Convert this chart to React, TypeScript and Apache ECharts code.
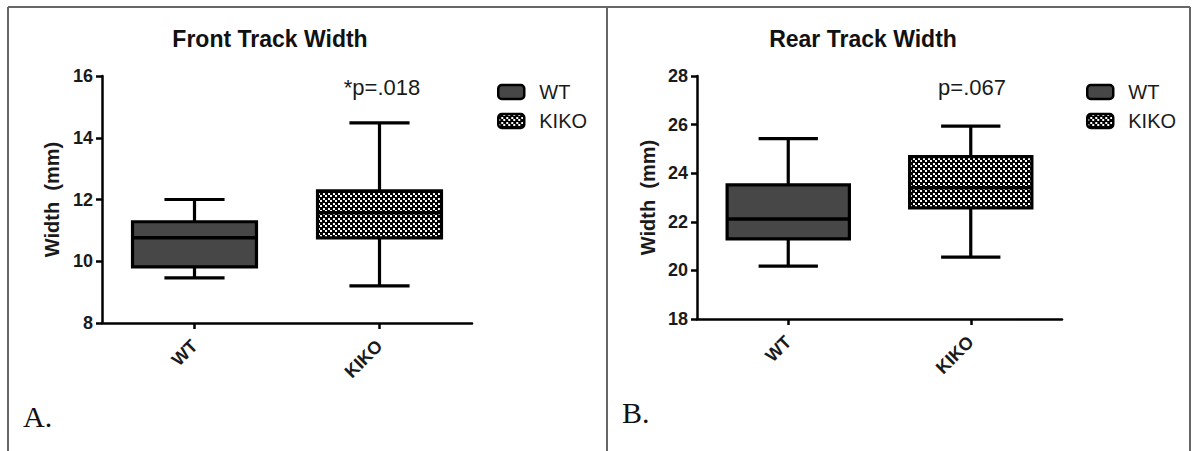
import React, { useEffect, useRef } from 'react';
import * as echarts from 'echarts';

// ---- data ----
const categories = ['WT', 'KIKO'];
// box values: [min, Q1, median, Q3, max]
const frontWT = [9.46, 9.82, 10.76, 11.28, 12.0];
const frontKIKO = [9.2, 10.76, 11.57, 12.28, 14.48];
const rearWT = [20.18, 21.3, 22.12, 23.52, 25.42];
const rearKIKO = [20.55, 22.57, 23.4, 24.68, 25.94];
const frontTicks = [8, 10, 12, 14, 16];
const rearTicks = [18, 20, 22, 24, 26, 28];
const titles = ['Front Track Width', 'Rear Track Width'];
const pLabels = ['*p=.018', 'p=.067'];
const panelLabels = ['A.', 'B.'];
const yName = 'Width  (mm)';

const SANS = '"Liberation Sans", Arial, Helvetica, sans-serif';
const SERIF = '"Liberation Serif", "Times New Roman", serif';

function makeChecker(): HTMLCanvasElement {
  const c = document.createElement('canvas');
  c.width = 5;
  c.height = 5;
  const ctx = c.getContext('2d')!;
  ctx.fillStyle = '#000';
  ctx.fillRect(0, 0, 5, 5);
  ctx.fillStyle = '#fff';
  ctx.fillRect(0, 0, 2, 2);
  ctx.fillRect(3, 3, 2, 2);
  return c;
}

const makeRender = (fill: any) => (params: any, api: any) => {
  const ci = api.value(0);
  const pts = [1, 2, 3, 4, 5].map((i) => api.coord([ci, api.value(i)]));
  const band = api.size([1, 0])[0];
  const cx = pts[0][0];
  const bw = band * 0.67;
  const cw = band * 0.325;
  const line = (x1: number, y1: number, x2: number, y2: number, w = 3.2) => ({
    type: 'line',
    shape: { x1, y1, x2, y2 },
    style: { stroke: '#000', lineWidth: w },
  });
  return {
    type: 'group',
    children: [
      line(cx, pts[4][1], cx, pts[3][1]),
      line(cx, pts[1][1], cx, pts[0][1]),
      line(cx - cw / 2, pts[4][1], cx + cw / 2, pts[4][1]),
      line(cx - cw / 2, pts[0][1], cx + cw / 2, pts[0][1]),
      {
        type: 'rect',
        shape: { x: cx - bw / 2, y: pts[3][1], width: bw, height: pts[1][1] - pts[3][1] },
        style: { fill, stroke: '#000', lineWidth: 3.2 },
      },
      line(cx - bw / 2, pts[2][1], cx + bw / 2, pts[2][1], 3.5),
    ],
  };
};

export default function App() {
  const ref = useRef<HTMLDivElement>(null);
  useEffect(() => {
    if (!ref.current) return;
    const chart = echarts.init(ref.current, null, { renderer: 'svg' });
    const checker = makeChecker();
    const pattern: any = { image: checker, repeat: 'repeat', imageWidth: 5, imageHeight: 5 };
    const dark = '#474747';

    const grids = [
      { left: 102, top: 76, width: 370, height: 247 },
      { left: 697, top: 76, width: 365, height: 243 },
    ];
    const tickSets = [frontTicks, rearTicks];
    const nameGaps = [40, 39];

    const yAxes = tickSets.map((t, i) => ({
      type: 'value',
      gridIndex: i,
      min: t[0],
      max: t[t.length - 1],
      interval: t[1] - t[0],
      name: yName,
      nameLocation: 'middle',
      nameGap: nameGaps[i],
      nameTextStyle: { fontSize: 20, fontWeight: 'bold', color: '#1a1a1a', fontFamily: SANS },
      axisLine: { show: true, lineStyle: { color: '#000', width: 2.5 } },
      axisTick: { show: true, length: 6, lineStyle: { color: '#000', width: 2.5 } },
      axisLabel: { fontSize: 18, fontWeight: 'bold', color: '#1a1a1a', margin: 9, fontFamily: SANS },
      splitLine: { show: false },
    }));

    const xAxes = [0, 1].map((i) => ({
      type: 'category',
      gridIndex: i,
      data: categories,
      axisLine: { show: true, lineStyle: { color: '#000', width: 2.5 } },
      axisTick: { show: true, alignWithLabel: true, length: 6, lineStyle: { color: '#000', width: 2.5 } },
      axisLabel: { rotate: 45, fontSize: 18, fontWeight: 'bold', color: '#1a1a1a', margin: 20, fontFamily: SANS },
      splitLine: { show: false },
    }));

    const seriesDefs = [
      { name: 'WT', vals: frontWT, ci: 0, g: 0, fill: dark },
      { name: 'KIKO', vals: frontKIKO, ci: 1, g: 0, fill: pattern },
      { name: 'WT', vals: rearWT, ci: 0, g: 1, fill: dark },
      { name: 'KIKO', vals: rearKIKO, ci: 1, g: 1, fill: pattern },
    ];

    const series = seriesDefs.map((s) => ({
      type: 'custom',
      name: s.name,
      xAxisIndex: s.g,
      yAxisIndex: s.g,
      itemStyle: { color: s.fill, borderColor: '#000' },
      encode: { x: 0, y: [1, 2, 3, 4, 5] },
      data: [[s.ci, ...s.vals]],
      renderItem: makeRender(s.fill),
    }));

    const legendLefts = [497, 1086];
    const legends = legendLefts.map((l) => ({
      left: l,
      top: 82,
      orient: 'vertical',
      padding: 0,
      itemGap: 9,
      itemWidth: 26,
      itemHeight: 14,
      icon: 'roundRect',
      selectedMode: false,
      itemStyle: { borderColor: '#000', borderWidth: 2.5 },
      formatter: (n: string) => '{sp|}' + n,
      textStyle: {
        fontSize: 20,
        color: '#1a1a1a',
        fontFamily: SANS,
        rich: { sp: { width: 10 } },
      },
      data: [
        { name: 'WT', itemStyle: { color: dark, borderColor: '#000', borderWidth: 2.5 } },
        { name: 'KIKO', itemStyle: { color: pattern, borderColor: '#000', borderWidth: 2.5 } },
      ],
    }));

    const titleCenters = [270, 863];
    const pCenters = [[382, 87], [972, 87]];
    const labelPos = [[23, 416], [622, 412]];

    const border = { stroke: '#666', lineWidth: 2 };

    chart.setOption({
      animation: false,
      backgroundColor: '#fff',
      title: titles.map((t, i) => ({
        text: t,
        left: titleCenters[i],
        top: 27,
        textAlign: 'center',
        padding: 0,
        textStyle: { fontSize: 23, fontWeight: 'bold', color: '#111', fontFamily: SANS },
      })),
      grid: grids,
      xAxis: xAxes,
      yAxis: yAxes,
      legend: legends,
      series,
      graphic: [
        { type: 'line', shape: { x1: 8, y1: 7, x2: 1190, y2: 7 }, style: border, silent: true },
        { type: 'line', shape: { x1: 8, y1: 7, x2: 8, y2: 451 }, style: border, silent: true },
        { type: 'line', shape: { x1: 607, y1: 7, x2: 607, y2: 451 }, style: border, silent: true },
        { type: 'line', shape: { x1: 1190, y1: 7, x2: 1190, y2: 451 }, style: border, silent: true },
        ...pLabels.map((p, i) => ({
          type: 'text',
          x: pCenters[i][0],
          y: pCenters[i][1],
          style: {
            text: p,
            fontSize: 22,
            fontFamily: SANS,
            fill: '#1a1a1a',
            align: 'center',
            verticalAlign: 'middle',
          },
        })),
        ...panelLabels.map((p, i) => ({
          type: 'text',
          x: labelPos[i][0],
          y: labelPos[i][1],
          style: {
            text: p,
            fontSize: 30,
            fontFamily: SERIF,
            fill: '#111',
            align: 'left',
            verticalAlign: 'middle',
          },
        })),
      ],
    });
    return () => chart.dispose();
  }, []);
  return (
    <div
      ref={ref}
      style={{ position: 'fixed', left: 0, top: 0, width: 1195, height: 451, background: '#fff' }}
    />
  );
}
